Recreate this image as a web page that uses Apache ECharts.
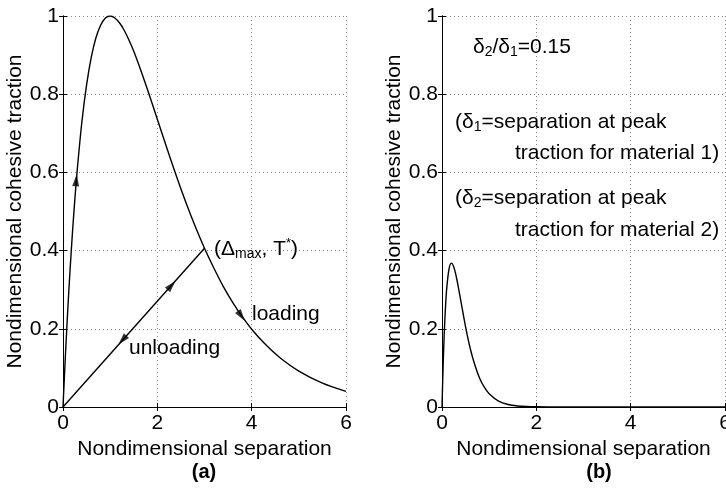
<!DOCTYPE html>
<html><head><meta charset="utf-8">
<script src="https://cdn.jsdelivr.net/npm/echarts@6/dist/echarts.min.js"></script>
<style>html,body{margin:0;padding:0;background:#fff}#c{width:726px;height:496px}</style>
</head><body><div id="c"></div>
<script>
// ---- data ----
const xTicks = [0, 2, 4, 6];
const yTicks = [0, 0.2, 0.4, 0.6, 0.8, 1];
// panel (a): traction-separation curve
const sepA = [0,0.05,0.1,0.15,0.2,0.25,0.3,0.4,0.5,0.6,0.7,0.8,0.9,1.0,1.1,1.2,1.3,1.4,1.5,1.6,1.8,2.0,2.2,2.4,2.6,2.8,3.0,3.2,3.4,3.6,3.8,4.0,4.3,4.6,5.0,5.5,6.0];
const tracA = [0,0.129,0.246,0.351,0.445,0.529,0.604,0.729,0.824,0.895,0.945,0.977,0.995,1.0,0.995,0.982,0.963,0.938,0.910,0.878,0.809,0.736,0.663,0.592,0.525,0.463,0.406,0.355,0.308,0.267,0.231,0.199,0.159,0.126,0.092,0.061,0.040];
// unloading line to (Δmax, T*)
const sepUnload = [0, 3];
const tracUnload = [0, 0.406];
// arrows: position and direction (deg)
const arrowSep = [0.28, 2.3, 1.26, 3.78];
const arrowTrac = [0.58, 0.311, 0.171, 0.233];
const arrowDir = [-5, -42, 138, -145];
// panel (b)
const sepB = [0,0.025,0.05,0.075,0.1,0.15,0.2,0.25,0.3,0.35,0.4,0.5,0.6,0.7,0.8,0.9,1.0,1.2,1.4,1.6,1.8,2.0,2.5,3,4,5,6];
const tracB = [0,0.110,0.195,0.258,0.303,0.354,0.368,0.358,0.335,0.304,0.271,0.205,0.149,0.106,0.073,0.050,0.034,0.015,0.0064,0.0027,0.0011,0.0005,0,0,0,0,0];

const FONT = 'Liberation Sans, Arial, Helvetica, sans-serif';
const pairs = (xs, ys) => xs.map((x, i) => [x, ys[i]]);

function xAx(grid) {
  return [{
    type: 'value', gridIndex: grid, min: xTicks[0], max: xTicks[xTicks.length-1], interval: xTicks[1]-xTicks[0],
    name: 'Nondimensional separation', nameLocation: 'middle', nameGap: 32,
    nameTextStyle: {fontFamily: FONT, fontSize: 21, color: '#000'},
    axisLine: {lineStyle: {color: '#000', width: 1}}, axisTick: {inside: true, length: 4, lineStyle: {color: '#000'}},
    axisLabel: {fontFamily: FONT, fontSize: 21, color: '#000', margin: 6},
    splitLine: {show: true, lineStyle: {color: '#8a8a8a', type: [1, 3], width: 1}}
  }, {
    type: 'value', gridIndex: grid, position: 'top', min: xTicks[0], max: xTicks[xTicks.length-1], interval: xTicks[1]-xTicks[0],
    axisLine: {lineStyle: {color: '#000', width: 1}}, axisTick: {inside: true, length: 4, lineStyle: {color: '#000'}},
    axisLabel: {show: false}, splitLine: {show: false}
  }];
}
function yAx(grid, gap) {
  return [{
    type: 'value', gridIndex: grid, min: yTicks[0], max: yTicks[yTicks.length-1], interval: 0.2,
    name: 'Nondimensional cohesive traction', nameLocation: 'middle', nameGap: gap,
    nameTextStyle: {fontFamily: FONT, fontSize: 21, color: '#000'},
    axisLine: {lineStyle: {color: '#000', width: 1}}, axisTick: {inside: true, length: 4, lineStyle: {color: '#000'}},
    axisLabel: {fontFamily: FONT, fontSize: 21, color: '#000', margin: 4},
    splitLine: {show: true, lineStyle: {color: '#8a8a8a', type: [1, 3], width: 1}}
  }, {
    type: 'value', gridIndex: grid, position: 'right', min: yTicks[0], max: yTicks[yTicks.length-1], interval: 0.2,
    axisLine: {lineStyle: {color: '#000', width: 1}}, axisTick: {inside: true, length: 4, lineStyle: {color: '#000'}},
    axisLabel: {show: false}, splitLine: {show: false}
  }];
}

const lineStyle = {color: '#000', width: 1.4};
const chart = echarts.init(document.getElementById('c'), null, {renderer: 'canvas'});
const subStyle = {fontFamily: FONT, fontSize: 14, color: '#000', verticalAlign: 'bottom', lineHeight: 10};
const mainStyle = {fontFamily: FONT, fontSize: 21, color: '#000', lineHeight: 24};
const supStyle = {fontFamily: FONT, fontSize: 13, color: '#000', verticalAlign: 'top', lineHeight: 13};
function txt(x, y, text, align) {
  return {type: 'text', x: x, y: y, z: 100, style: {text: text, align: align || 'left', verticalAlign: 'middle',
    fontFamily: FONT, fontSize: 21, fill: '#000', rich: {m: mainStyle, s: subStyle, p: supStyle}}};
}

chart.setOption({
  animation: false,
  backgroundColor: '#fff',
  grid: [
    {left: 63, right: 380, top: 16, bottom: 89, show: false, containLabel: false, outerBoundsMode: 'none'},
    {left: 442, right: 1, top: 16, bottom: 89, show: false, containLabel: false, outerBoundsMode: 'none'}
  ],
  xAxis: [...xAx(0), ...xAx(1)],
  yAxis: [...yAx(0, 37), ...yAx(1, 26)],
  series: [
    {type: 'line', xAxisIndex: 0, yAxisIndex: 0, data: pairs(sepA, tracA), smooth: 0.3, showSymbol: false, lineStyle: lineStyle},
    {type: 'line', xAxisIndex: 0, yAxisIndex: 0, data: pairs(sepUnload, tracUnload), showSymbol: false, lineStyle: lineStyle},
    {type: 'scatter', xAxisIndex: 0, yAxisIndex: 0, symbol: 'triangle', symbolSize: [7, 12],
      itemStyle: {color: '#000'},
      data: arrowSep.map((x, i) => ({value: [x, arrowTrac[i]], symbolRotate: arrowDir[i]}))},
    {type: 'line', xAxisIndex: 2, yAxisIndex: 2, data: pairs(sepB, tracB), smooth: 0.3, showSymbol: false, lineStyle: lineStyle}
  ],
  graphic: [
    txt(214, 249, '{m|(Δ}{s|max}{m|, T}{p|*}{m|)}'),
    txt(252, 314, 'loading'),
    txt(129, 348, 'unloading'),
    txt(473, 47, '{m|δ}{s|2}{m|/δ}{s|1}{m|=0.15}'),
    txt(455, 122, '{m|(δ}{s|1}{m|=separation at peak}'),
    txt(515, 153, 'traction for material 1)'),
    txt(455, 198, '{m|(δ}{s|2}{m|=separation at peak}'),
    txt(515, 230, 'traction for material 2)'),
    {type: 'text', x: 204, y: 472, style: {text: '(a)', align: 'center', verticalAlign: 'middle', fontFamily: FONT, fontSize: 20, fontWeight: 'bold', fill: '#000'}},
    {type: 'text', x: 599, y: 472, style: {text: '(b)', align: 'center', verticalAlign: 'middle', fontFamily: FONT, fontSize: 20, fontWeight: 'bold', fill: '#000'}}
  ]
});
</script></body></html>
